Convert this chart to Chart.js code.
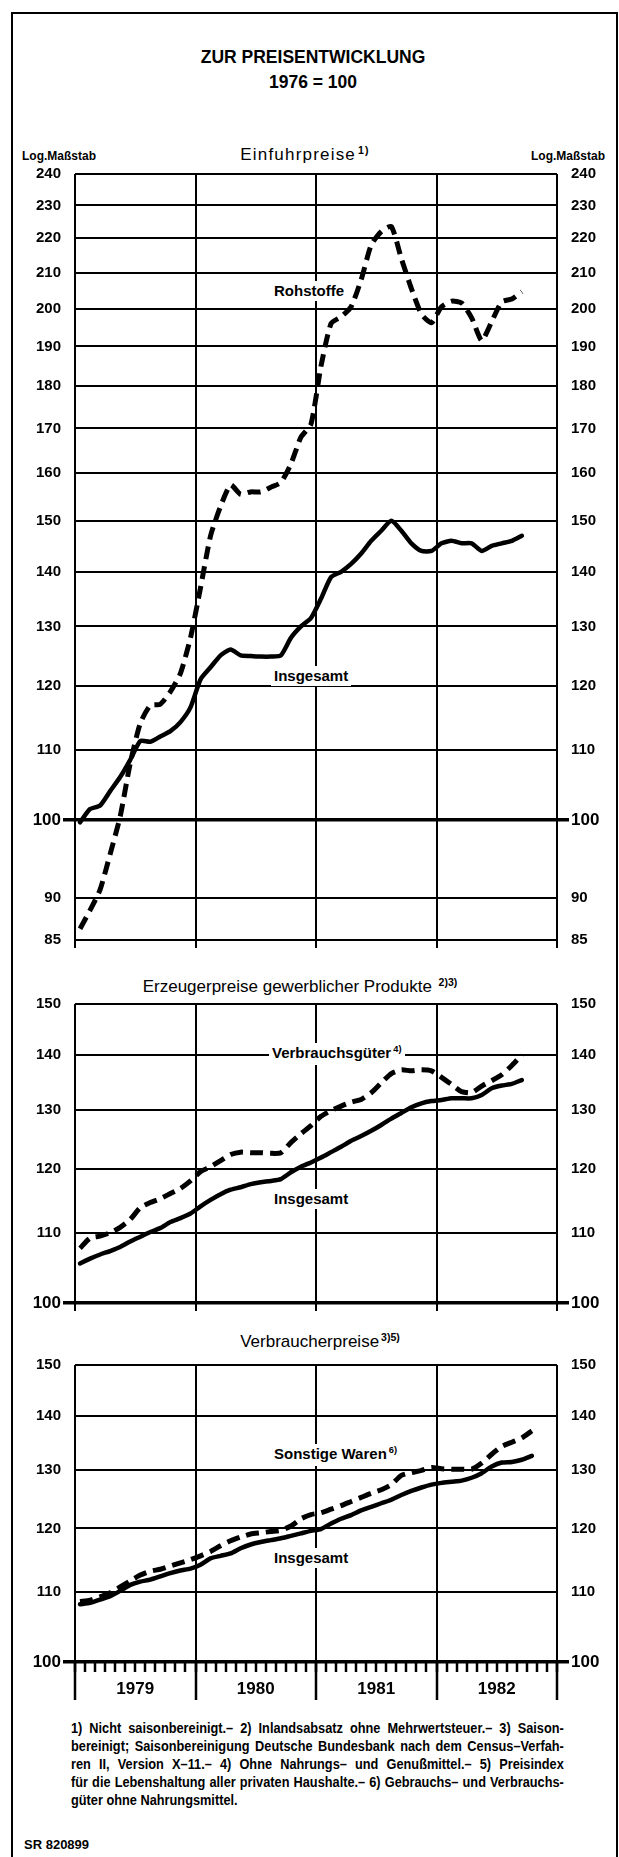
<!DOCTYPE html>
<html>
<head>
<meta charset="utf-8">
<script src="https://cdn.jsdelivr.net/npm/chart.js@4.4.1/dist/chart.umd.min.js"></script>
<style>
  body { margin: 0; background: #fff; width: 619px; height: 1857px; position: relative; overflow: hidden;
         font-family: "Liberation Sans", Arial, sans-serif; color: #000; }
  .frame { position: absolute; left: 11px; top: 12px; width: 603px; height: 1900px; border: 2px solid #000; }
  .t { position: absolute; white-space: nowrap; line-height: 20px; transform: translateY(-50%); }
  .c { text-align: center; }
  .b { font-weight: bold; }
  canvas { position: absolute; left: 0; }
  .lab { position: absolute; background: #fff; font-weight: bold; font-size: 15px; line-height: 20px;
         padding: 0 3px; transform: translateY(-50%); white-space: nowrap; }
  sup { font-size: 0.62em; vertical-align: 0; position: relative; top: -0.6em; margin-left: 2px; }
  .notes { position: absolute; left: 71px; top: 1719px; width: 560px; font-weight: bold; font-size: 14.5px;
           line-height: 18px; transform: scaleX(0.88); transform-origin: 0 0; }
  .notes div { text-align: justify; text-align-last: justify; white-space: nowrap; }
  .notes div.last { text-align-last: left; }
</style>
</head>
<body>
<div class="frame"></div>

<div class="t c b" style="left:0;width:626px;top:57px;font-size:17.5px">ZUR PREISENTWICKLUNG</div>
<div class="t c b" style="left:0;width:626px;top:82px;font-size:17.5px">1976 = 100</div>

<div class="t c" style="left:0;width:610px;top:155px;font-size:17px;letter-spacing:1.2px">Einfuhrpreise<sup class="b">1)</sup></div>
<div class="t b" style="left:22px;top:156px;font-size:12px">Log.Maßstab</div>
<div class="t b" style="left:531px;top:156px;font-size:12px">Log.Maßstab</div>

<div class="t c" style="left:0;width:600px;top:987px;font-size:17px">Erzeugerpreise gewerblicher Produkte <sup class="b">2)3)</sup></div>
<div class="t c" style="left:0;width:640px;top:1342px;font-size:17px">Verbraucherpreise<sup class="b">3)5)</sup></div>

<canvas id="importChart" width="619" height="797" style="top:163px"></canvas>
<canvas id="producerChart" width="619" height="331" style="top:992px"></canvas>
<canvas id="consumerChart" width="619" height="355" style="top:1352px"></canvas>

<div class="lab" style="left:271px;top:291px">Rohstoffe</div>
<div class="lab" style="left:271px;top:676px">Insgesamt</div>
<div class="lab" style="left:269px;top:1054px">Verbrauchsgüter<sup>4)</sup></div>
<div class="lab" style="left:271px;top:1199px">Insgesamt</div>
<div class="lab" style="left:271px;top:1455px">Sonstige Waren<sup>6)</sup></div>
<div class="lab" style="left:271px;top:1558px">Insgesamt</div>

<div class="notes">
  <div>1) Nicht saisonbereinigt.– 2) Inlandsabsatz ohne Mehrwertsteuer.– 3) Saison-</div>
  <div>bereinigt; Saisonbereinigung Deutsche Bundesbank nach dem Census–Verfah-</div>
  <div>ren II, Version X–11.– 4) Ohne Nahrungs– und Genußmittel.– 5) Preisindex</div>
  <div>für die Lebenshaltung aller privaten Haushalte.– 6) Gebrauchs– und Verbrauchs-</div>
  <div class="last">güter ohne Nahrungsmittel.</div>
</div>
<div class="t b" style="left:24px;top:1845px;font-size:13px">SR 820899</div>

<script>
// Monthly index values, Jan 1979 onwards (1976 = 100)

const YEARS = ['1979', '1980', '1981', '1982'];
const MONTHS_SHOWN = 48;

const IMPORT_TICKS = [85, 90, 100, 110, 120, 130, 140, 150, 160, 170, 180, 190, 200, 210, 220, 230, 240];
const PANEL_TICKS = [100, 110, 120, 130, 140, 150];

// Einfuhrpreise
const importRaw = [86.3, 88.5, 91, 95.5, 100.5, 108, 114, 116.8, 117, 119, 122, 128,
  137, 147, 153, 157.5, 155.5, 156, 156, 157, 158, 162, 168, 171,
  185, 196, 197.8, 200.5, 208, 218, 222, 223.5, 214, 205.5, 198.5, 196.2,
  200.5, 202, 201.5, 197.5, 191.5, 196.5, 201.8, 202.6, 204.6];
const importTotal = [99.7, 101.5, 102, 104, 106, 108.5, 111.3, 111.2, 112, 112.8, 114.2, 116.5,
  121, 123, 125, 126, 125, 124.9, 124.8, 124.8, 125, 128, 130, 131.5,
  135, 139, 140, 141.5, 143.5, 146, 148, 150, 148, 145.5, 144, 144,
  145.5, 146, 145.5, 145.5, 144, 145, 145.5, 146, 147];

// Erzeugerpreise gewerblicher Produkte
const producerConsumerGoods = [107.7, 109.2, 109.5, 110, 110.8, 112, 113.8, 114.6, 115.2, 116, 116.8, 118,
  119.5, 120.3, 121.3, 122.3, 122.7, 122.6, 122.6, 122.5, 122.6, 124.3, 125.8, 127.2,
  128.8, 129.8, 130.6, 131.3, 131.8, 133, 134.8, 136.5, 137.2, 137, 137.2, 137,
  135.8, 134.5, 133.2, 133, 134.2, 135.2, 136.3, 138, 140];
const producerTotal = [105.5, 106.2, 106.8, 107.3, 107.9, 108.7, 109.4, 110.1, 110.7, 111.6, 112.2, 112.9,
  114, 115, 115.9, 116.6, 117, 117.5, 117.8, 118, 118.3, 119.4, 120.3, 121,
  121.8, 122.7, 123.6, 124.6, 125.4, 126.3, 127.3, 128.4, 129.4, 130.4, 131.1, 131.5,
  131.7, 132, 132, 132, 132.6, 133.8, 134.3, 134.6, 135.3];

// Verbraucherpreise
const consumerOtherGoods = [108.6, 108.8, 109.3, 109.9, 110.8, 111.7, 112.6, 113.2, 113.5, 114, 114.5, 115,
  115.6, 116.3, 117.2, 118, 118.6, 119.1, 119.3, 119.5, 119.7, 120.4, 121.6, 122.3,
  122.6, 123.2, 123.8, 124.5, 125.2, 125.9, 126.5, 127.4, 129, 129.5, 129.9, 130.4,
  130.2, 130.1, 130.1, 130.1, 131.2, 132.8, 134.2, 135, 135.8, 137.1];
const consumerTotal = [108.2, 108.4, 108.9, 109.4, 110.2, 111.1, 111.6, 111.9, 112.4, 112.9, 113.3, 113.6,
  114.2, 115.2, 115.6, 116, 116.8, 117.4, 117.8, 118.1, 118.4, 118.8, 119.2, 119.6,
  119.9, 120.8, 121.6, 122.2, 123, 123.6, 124.2, 124.8, 125.6, 126.3, 126.9, 127.4,
  127.7, 127.9, 128.1, 128.6, 129.4, 130.6, 131.3, 131.4, 131.8, 132.5];

const SANS = '"Liberation Sans", Arial, sans-serif';
const INK = '#000';
const NONE = 'rgba(0,0,0,0)';

function monthPoints(values) {
  // one point in the middle of each month
  return values.map((v, i) => ({ x: i + 0.5, y: v }));
}

function solid(values) {
  return { data: monthPoints(values), borderColor: INK, borderWidth: 4.5, pointRadius: 0,
    tension: 0.2, borderCapStyle: 'round', borderJoinStyle: 'round' };
}

function dashed(values) {
  return { data: monthPoints(values), borderColor: INK, borderWidth: 5, pointRadius: 0,
    tension: 0.2, borderDash: [13, 7], borderCapStyle: 'butt' };
}

const is100 = (ctx) => ctx.tick && ctx.tick.value === 100;
const isYearStart = (ctx) => ctx.tick && ctx.tick.value % 12 === 0;

// longer year separators below the last panel
const yearSeparators = {
  id: 'yearSeparators',
  afterDraw(chart, args, opts) {
    if (!opts.length) return;
    const { ctx, chartArea, scales } = chart;
    ctx.save();
    ctx.strokeStyle = INK;
    ctx.lineWidth = 2.5;
    for (let v = 0; v <= MONTHS_SHOWN; v += 12) {
      const px = Math.round(scales.x.getPixelForValue(v));
      ctx.beginPath();
      ctx.moveTo(px, chartArea.bottom);
      ctx.lineTo(px, chartArea.bottom + opts.length);
      ctx.stroke();
    }
    ctx.restore();
  },
};

function yAxis(position, cfg) {
  return {
    type: 'logarithmic',
    position,
    min: cfg.min,
    max: cfg.max,
    afterBuildTicks: (s) => { s.ticks = cfg.ticks.map(v => ({ value: v })); },
    afterFit: (s) => { s.width = position === 'left' ? 75 : 62; },
    border: { display: false },
    grid: {
      drawOnChartArea: position === 'left',
      color: INK,
      lineWidth: (ctx) => is100(ctx) ? 3.5 : 2,
      tickLength: 12,
      tickWidth: 3.5,
      tickColor: (ctx) => is100(ctx) ? INK : NONE,
    },
    ticks: {
      autoSkip: false,
      padding: 2,
      color: INK,
      font: (ctx) => is100(ctx)
        ? { family: SANS, size: 17, weight: 'bold' }
        : { family: SANS, size: 15, weight: 'bold' },
      callback: (v) => String(v),
    },
  };
}

function makePanel(canvasId, cfg) {
  const canvas = document.getElementById(canvasId);
  return new Chart(canvas, {
    type: 'line',
    data: { datasets: cfg.datasets },
    plugins: [yearSeparators],
    options: {
      responsive: false,
      animation: false,
      devicePixelRatio: 1,
      layout: { padding: { top: cfg.padTop, left: 0, right: 0, bottom: 0 } },
      scales: {
        x: {
          type: 'linear',
          min: 0,
          max: MONTHS_SHOWN,
          afterBuildTicks: (s) => { s.ticks = Array.from({ length: MONTHS_SHOWN + 1 }, (_, i) => ({ value: i })); },
          afterFit: (s) => { s.height = cfg.xHeight; },
          border: { display: false },
          grid: {
            color: (ctx) => isYearStart(ctx) ? INK : NONE,
            lineWidth: 2,
            tickLength: cfg.monthTicks ? 10 : 8,
            tickWidth: cfg.monthTicks ? 2.5 : 2,
            tickColor: (ctx) => (cfg.monthTicks || isYearStart(ctx)) ? INK : NONE,
          },
          ticks: {
            display: !!cfg.yearLabels,
            autoSkip: false,
            maxRotation: 0,
            minRotation: 0,
            padding: 7,
            color: INK,
            font: { family: SANS, size: 17, weight: 'bold' },
            callback: (v) => (v % 12 === 6 ? YEARS[(v - 6) / 12] : ''),
          },
        },
        y: yAxis('left', cfg),
        y2: yAxis('right', cfg),
      },
      plugins: {
        legend: { display: false },
        tooltip: { enabled: false },
        yearSeparators: { length: cfg.separatorLength || 0 },
      },
    },
  });
}

makePanel('importChart', {
  min: 85, max: 240, ticks: IMPORT_TICKS, padTop: 10, xHeight: 20,
  datasets: [dashed(importRaw), solid(importTotal)],
});

makePanel('producerChart', {
  min: 100, max: 150, ticks: PANEL_TICKS, padTop: 12, xHeight: 20,
  datasets: [dashed(producerConsumerGoods), solid(producerTotal)],
});

makePanel('consumerChart', {
  min: 100, max: 150, ticks: PANEL_TICKS, padTop: 13, xHeight: 45,
  monthTicks: true, yearLabels: true, separatorLength: 38,
  datasets: [dashed(consumerOtherGoods), solid(consumerTotal)],
});
</script>
</body>
</html>
